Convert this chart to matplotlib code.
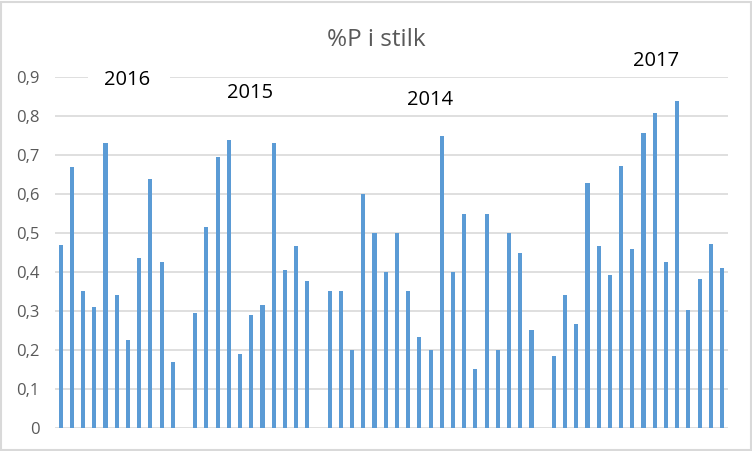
import matplotlib
matplotlib.use("Agg")
import matplotlib.pyplot as plt
from matplotlib.patches import Rectangle
import numpy as np

# ---- data ----
title = "%P i stilk"
group_names = ["2016", "2015", "2014", "2017"]
values_2016 = [0.47, 0.67, 0.35, 0.31, 0.73, 0.34, 0.225, 0.435, 0.64, 0.425, 0.17]
values_2015 = [0.295, 0.515, 0.695, 0.74, 0.19, 0.29, 0.315, 0.73, 0.405, 0.467, 0.377]
values_2014 = [0.35, 0.35, 0.2, 0.6, 0.5, 0.4, 0.5, 0.35, 0.233, 0.2, 0.75, 0.4,
               0.55, 0.15, 0.55, 0.2, 0.5, 0.45, 0.25]
values_2017 = [0.184, 0.341, 0.266, 0.629, 0.467, 0.392, 0.672, 0.459, 0.757, 0.808,
               0.426, 0.839, 0.302, 0.382, 0.472, 0.41]
y_ticks = [0, 0.1, 0.2, 0.3, 0.4, 0.5, 0.6, 0.7, 0.8, 0.9]
y_tick_labels = ["0", "0,1", "0,2", "0,3", "0,4", "0,5", "0,6", "0,7", "0,8", "0,9"]

groups = [values_2016, values_2015, values_2014, values_2017]
series = []
for i, g in enumerate(groups):
    series.extend(g)
    if i < len(groups) - 1:
        series.append(np.nan)
series = np.array(series, dtype=float)
x = np.arange(len(series))

# ---- style ----
W, H, DPI = 752, 451, 100
font = "Open Sans"
grey = "#595959"
grid_c = "#d9d9d9"
bar_c = "#5b9bd5"

fig = plt.figure(figsize=(W / DPI, H / DPI), dpi=DPI)
fig.patch.set_facecolor("white")

left_px, right_px, top_px, bottom_px = 55.1, 727.6, 77.3, 427.7
ax = fig.add_axes([left_px / W, 1 - bottom_px / H,
                   (right_px - left_px) / W, (bottom_px - top_px) / H])

ax.bar(x, series, width=0.37, color=bar_c, zorder=3)
ax.set_xlim(-0.5, len(series) - 0.5)
ax.set_ylim(0, 0.9)
ax.set_yticks(y_ticks)
ax.set_yticklabels(y_tick_labels, fontfamily=font, fontsize=12, color=grey)
ax.set_xticks([])
ax.tick_params(axis="y", length=0, pad=11)
for s in ax.spines.values():
    s.set_visible(False)
ax.yaxis.grid(True, color=grid_c, linewidth=1.2, zorder=0)
ax.set_axisbelow(True)

# title
fig.text(376 / W, 1 - 40 / H, title, ha="center", va="center",
         fontfamily=font, fontsize=17.5, color=grey)

# year labels as text boxes
aw, ah = right_px - left_px, bottom_px - top_px
def axx(px):
    return (px - left_px) / aw
def axy(py):
    return (bottom_px - py) / ah

label_pos = [(127, 80), (250, 93), (430.5, 100), (656, 61)]
boxes = [(88, 170, 70, 92), (212, 293, 82, 104), (396, 478, 90, 110), None]
for name, (px, py), b in zip(group_names, label_pos, boxes):
    if b is not None:
        x0, x1, y0, y1 = b
        ax.add_patch(Rectangle((axx(x0), axy(y1)), axx(x1) - axx(x0), axy(y0) - axy(y1),
                               transform=ax.transAxes, facecolor="white",
                               edgecolor="none", zorder=4, clip_on=False))
    ax.text(axx(px), axy(py), name, transform=ax.transAxes, ha="center", va="center",
            fontfamily=font, fontsize=14.5, color="black", zorder=5, clip_on=False)

# outer border
fig.patches.append(Rectangle((1.5 / W, 1.5 / H), 1 - 3 / W, 1 - 3 / H,
                             transform=fig.transFigure, facecolor="none",
                             edgecolor=grid_c, linewidth=1.5, zorder=10))

fig.savefig("out.png", dpi=DPI, facecolor="white")
